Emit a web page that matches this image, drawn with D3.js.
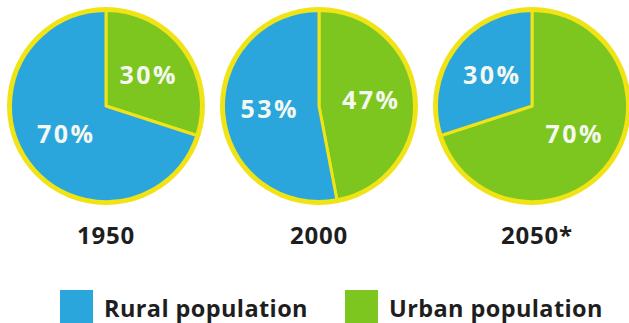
<!DOCTYPE html>
<html><head><meta charset="utf-8">
<script src="https://cdn.jsdelivr.net/npm/d3@7/dist/d3.min.js"></script>
<style>
html,body{margin:0;padding:0;background:#fff;}
svg{display:block;}
</style>
</head><body>
<svg id="c" width="629" height="323"></svg>
<script>
const years = ["1950", "2000", "2050*"];
const categories = ["Urban population", "Rural population"];
const urban = [30, 47, 70];
const rural = [70, 53, 30];
const legendLabels = ["Rural population", "Urban population"];

const colors = {"Urban population": "#7dc61f", "Rural population": "#2aa6dd"};
const yellow = "#f0e316";

const svg = d3.select("#c");
const x = d3.scalePoint().domain(years).range([106, 532]);
const cy = 106, R = 99;

const pie = d3.pie().sort(null).value(d => d.v);
const arc = d3.arc().innerRadius(0).outerRadius(R - 3.5);
const labelArc = d3.arc().innerRadius(51).outerRadius(51);

years.forEach((yr, i) => {
  const data = [{k: categories[0], v: urban[i]}, {k: categories[1], v: rural[i]}];
  const g = svg.append("g").attr("transform", `translate(${x(yr)},${cy})`);
  g.append("circle").attr("r", R).attr("fill", yellow);
  const arcs = pie(data);
  g.selectAll("path").data(arcs).join("path")
    .attr("d", arc)
    .attr("fill", d => colors[d.data.k])
    .attr("stroke", yellow).attr("stroke-width", 3).attr("stroke-linejoin", "round");
  g.selectAll("text").data(arcs).join("text")
    .attr("transform", d => {
      let [lx, ly] = labelArc.centroid(d);
      return `translate(${lx + 1.5},${ly})`;
    })
    .attr("text-anchor", "middle")
    .attr("dy", "0.3em")
    .attr("fill", "#f4f8f0")
    .attr("font-family", "'Open Sans', sans-serif")
    .attr("font-weight", 700)
    .attr("font-size", 25)
    .attr("letter-spacing", 2.5)
    .text(d => d.data.v + "%");
  svg.append("text")
    .attr("x", x(yr) + (yr.endsWith("*") ? 5 : 0))
    .attr("y", 244)
    .attr("text-anchor", "middle")
    .attr("fill", "#1e1e1e")
    .attr("font-family", "'Open Sans', sans-serif")
    .attr("font-weight", 700)
    .attr("font-size", 24)
    .attr("letter-spacing", 0.8)
    .text(yr);
});

const legendX = [60, 345];
legendLabels.forEach((lab, i) => {
  svg.append("rect").attr("x", legendX[i]).attr("y", 290).attr("width", 33).attr("height", 33)
    .attr("fill", colors[lab]);
  svg.append("text").attr("x", legendX[i] + 44).attr("y", 317)
    .attr("fill", "#1e1e1e")
    .attr("font-family", "'Open Sans', sans-serif")
    .attr("font-weight", 700)
    .attr("font-size", 23.5)
    .attr("letter-spacing", 0.4)
    .text(lab);
});
</script>
</body></html>
